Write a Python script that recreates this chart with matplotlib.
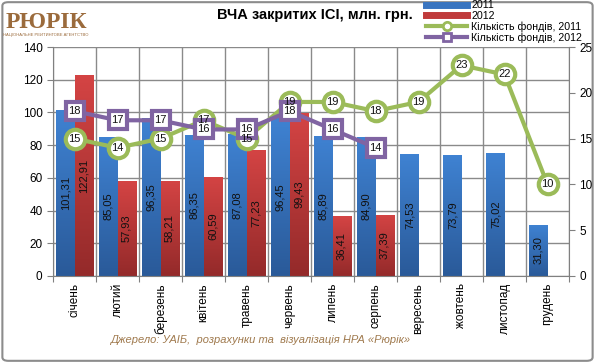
import numpy as np
import matplotlib
matplotlib.use("Agg")
import matplotlib.pyplot as plt
from matplotlib.lines import Line2D
from matplotlib.patches import FancyBboxPatch
from matplotlib.colors import LinearSegmentedColormap

months = ["січень", "лютий", "березень", "квітень", "травень", "червень",
          "липень", "серпень", "вересень", "жовтень", "листопад", "грудень"]
nav_2011 = [101.31, 85.05, 96.35, 86.35, 87.08, 96.45, 85.89, 84.90, 74.53, 73.79, 75.02, 31.30]
nav_2012 = [122.91, 57.93, 58.21, 60.59, 77.23, 99.43, 36.41, 37.39]
funds_2011 = [15, 14, 15, 17, 15, 19, 19, 18, 19, 23, 22, 10]
funds_2012 = [18, 17, 17, 16, 16, 18, 16, 14]

title = "ВЧА закритих ІСІ, млн. грн."
source = "Джерело: УАІБ,  розрахунки та  візуалізація НРА «Рюрік»"
legend_labels = ["2011", "2012", "Кількість фондів, 2011", "Кількість фондів, 2012"]

plt.rcParams['font.family'] = ['Liberation Sans', 'DejaVu Sans']

fig = plt.figure(figsize=(5.95, 3.63), dpi=100)
fig.patch.set_facecolor("white")
frame = FancyBboxPatch((0.004, 0.006), 0.992, 0.988, boxstyle="round,pad=0,rounding_size=0.01",
                       transform=fig.transFigure, facecolor="white", edgecolor="#8c8c8c", lw=1.5,
                       zorder=-10)
fig.patches.append(frame)

ax = fig.add_axes([53/595, 1-276/363, (569-53)/595, (276-47)/363])
ax.set_facecolor("none")
ax.set_xlim(-0.5, 11.5)
ax.set_ylim(0, 140)

x1 = np.arange(len(nav_2011))
x2 = np.arange(len(nav_2012))
w = 0.42
blue_cm = LinearSegmentedColormap.from_list("b", ["#2a5a99", "#3f82d2"])
red_cm = LinearSegmentedColormap.from_list("r", ["#942a2a", "#d44444"])
b1 = ax.bar(x1 - w/2, nav_2011, w, color="#3a75c0", zorder=2)
b2 = ax.bar(x2 + w/2, nav_2012, w, color="#c03a3a", zorder=2)
grad = np.linspace(0, 1, 100).reshape(-1, 1)
for bars, cm in ((b1, blue_cm), (b2, red_cm)):
    for p in bars:
        x0, y0 = p.get_x(), p.get_y()
        im = ax.imshow(grad, cmap=cm, origin="lower", aspect="auto",
                       extent=(x0, x0 + p.get_width(), y0, y0 + p.get_height()), zorder=2.1)
        im.set_clip_path(p)
ax.set_xlim(-0.5, 11.5)
ax.set_ylim(0, 140)

for xs, vals, off in ((x1, nav_2011, -w/2), (x2, nav_2012, w/2)):
    for xi, v in zip(xs, vals):
        ax.text(xi + off, v/2, f"{v:.2f}".replace(".", ","), rotation=90, ha="center",
                va="center", fontsize=8, color="#111111", zorder=3)

ax.set_yticks(np.arange(0, 141, 20))
ax.set_xticks(np.arange(-0.5, 12, 1))
ax.set_xticklabels([])
ax.set_xticks(np.arange(12), minor=True)
ax.set_xticklabels(months, minor=True, rotation=90, fontsize=8.5)
ax.tick_params(axis="x", which="minor", length=0, pad=5)
ax.tick_params(axis="x", which="major", length=4, color="#808080")
ax.tick_params(axis="y", length=4, color="#808080", labelsize=8.5)
ax.grid(True, which="major", color="#8a8a8a", lw=1, zorder=0)
ax.set_axisbelow(True)
for s in ("top", "right"):
    ax.spines[s].set_visible(False)
ax.spines["left"].set_color("#808080")
ax.spines["bottom"].set_color("#808080")

ax2 = ax.twinx()
ax2.set_ylim(0, 25)
ax2.set_yticks(np.arange(0, 26, 5))
ax2.tick_params(axis="y", length=4, color="#808080", labelsize=8.5)
for s in ("top", "left", "bottom"):
    ax2.spines[s].set_visible(False)
ax2.spines["right"].set_color("#808080")

green = "#9bbb59"
purple = "#8064a2"
ax2.plot(x1, funds_2011, color=green, lw=3, marker="o", ms=14, mfc="white", mec=green, mew=3, zorder=4)
ax2.plot(x2, funds_2012, color=purple, lw=3, marker="s", ms=13, mfc="white", mec=purple, mew=3, zorder=5)
for xi, v in zip(x1, funds_2011):
    ax2.text(xi, v, str(v), ha="center", va="center", fontsize=8, color="#111111", zorder=6)
for xi, v in zip(x2, funds_2012):
    ax2.text(xi, v, str(v), ha="center", va="center", fontsize=8, color="#111111", zorder=6)

handles = [Line2D([], [], color="#3a75c0", lw=5),
           Line2D([], [], color="#c03a3a", lw=5),
           Line2D([], [], color=green, lw=3, marker="o", ms=6, mfc="white", mec=green, mew=2),
           Line2D([], [], color=purple, lw=3, marker="s", ms=6, mfc="white", mec=purple, mew=2)]
fig.legend(handles, legend_labels, loc="upper left", bbox_to_anchor=(420/595, 1+6/363),
           frameon=False, fontsize=7.7, handlelength=3.8, labelspacing=0.05, handletextpad=0.4,
           borderpad=0.1)

fig.text(315/595, 1-15/363, title, ha="center", va="center", fontsize=10.5, fontweight="bold")
fig.text(260/595, 1-340/363, source, ha="center", va="center", fontsize=8, style="italic",
         color="#a07a4e")
fig.text(46/595, 1-22/363, "РЮРІК", ha="center", va="center", fontsize=17, family="Liberation Serif",
         color="#9b6b3c", fontweight="bold")
fig.text(46/595, 1-35/363, "НАЦІОНАЛЬНЕ РЕЙТИНГОВЕ АГЕНТСТВО", ha="center", va="center", fontsize=3,
         color="#9b6b3c")

fig.savefig("out.png", dpi=100)
